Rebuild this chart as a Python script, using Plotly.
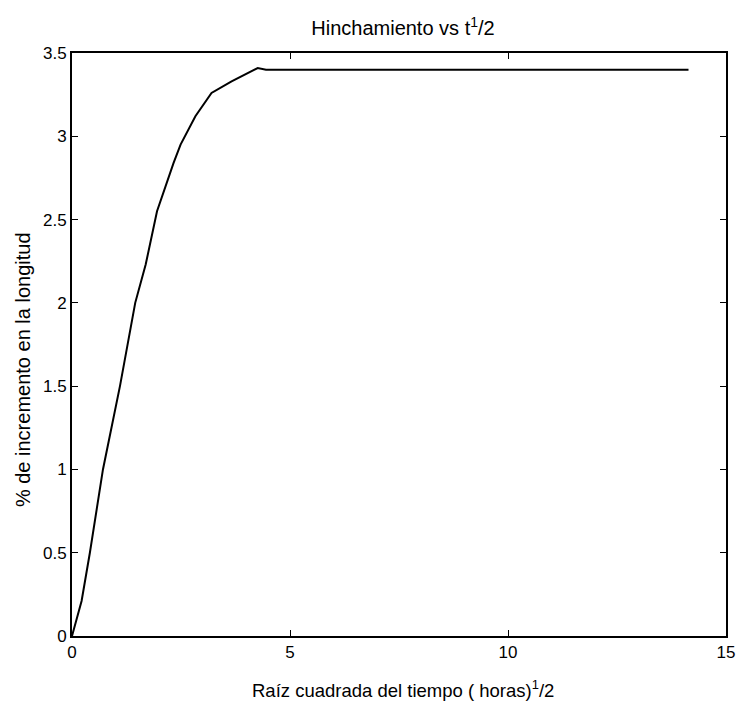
import plotly.graph_objects as go

x_vals = [0, 0.22, 0.41, 0.71, 1.10, 1.45, 1.69, 1.95, 2.33, 2.49, 2.83, 3.20, 3.66, 3.96, 4.26, 4.45, 14.14]
y_vals = [0, 0.21, 0.5, 1.0, 1.5, 2.0, 2.23, 2.55, 2.84, 2.95, 3.12, 3.26, 3.33, 3.37, 3.41, 3.40, 3.40]

x_ticks = [0, 5, 10, 15]
y_ticks = [0, 0.5, 1, 1.5, 2, 2.5, 3, 3.5]
y_tick_text = ["0", "0.5", "1", "1.5", "2", "2.5", "3", "3.5"]

title_text = "Hinchamiento vs t<sup>1</sup>/2"
x_title = "Raíz cuadrada del tiempo ( horas)<sup>1</sup>/2"
y_title = "% de incremento en la longitud"

font = "Liberation Sans, Arial, sans-serif"

W, H = 739, 697
L, R, T, B = 64, 13, 45, 69
pw, ph = W - L - R, H - T - B

fig = go.Figure()
fig.add_trace(go.Scatter(x=x_vals, y=y_vals, mode="lines",
                         line=dict(color="black", width=2), showlegend=False))

axis_common = dict(showgrid=False, zeroline=False, showline=True, linecolor="black",
                   linewidth=1.8, mirror="ticks", ticks="inside", ticklen=6,
                   tickwidth=1.2, tickcolor="black", ticklabeloverflow="allow",
                   tickfont=dict(family=font, size=17, color="black"))

fig.update_xaxes(range=[0, 15], tickvals=x_ticks, **axis_common)
fig.update_yaxes(range=[0, 3.5], tickvals=y_ticks, ticktext=y_tick_text, **axis_common)

fig.update_layout(
    width=W, height=H,
    margin=dict(l=L, r=R, t=T, b=B),
    paper_bgcolor="white", plot_bgcolor="white",
    title=dict(text=title_text, x=(L + pw / 2) / W, xanchor="center",
               y=1 - 20 / H, yanchor="middle", yref="container",
               font=dict(family=font, size=20, color="black")),
    annotations=[
        dict(text=x_title, xref="paper", yref="paper", x=0.5 + 4 / pw, y=-53 / ph,
             xanchor="center", yanchor="middle", showarrow=False,
             font=dict(family=font, size=18.5, color="black")),
        dict(text=y_title, xref="paper", yref="paper", x=-50 / pw, y=0.5 - 25 / ph,
             xanchor="center", yanchor="middle", textangle=-90, showarrow=False,
             font=dict(family=font, size=20, color="black")),
    ],
)

fig.write_html("out.html")
